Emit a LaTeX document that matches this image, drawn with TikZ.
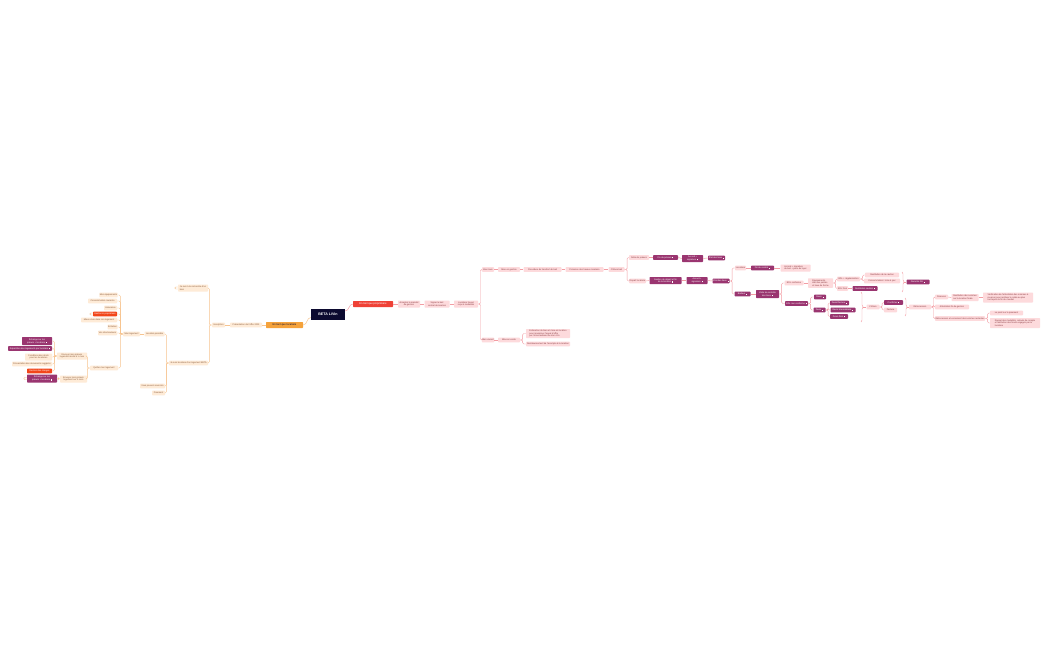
\documentclass[tikz,border=0pt]{standalone}
\usepackage{fontspec}
\setmainfont{Liberation Sans}
\usetikzlibrary{decorations.pathreplacing}
\definecolor{lfill}{HTML}{FEEBD7}
\definecolor{ltext}{HTML}{8A5A3A}
\definecolor{rfill}{HTML}{FDDADC}
\definecolor{rtext}{HTML}{8A3A40}
\definecolor{purp}{HTML}{9A3570}
\definecolor{hotc}{HTML}{F2461A}
\definecolor{lline}{HTML}{F7C48F}
\definecolor{rline}{HTML}{F39CA3}
\definecolor{navy}{HTML}{0C0A30}
\definecolor{orng}{HTML}{F5A23A}
\definecolor{redc}{HTML}{EF4136}
\newcommand\ic{\hspace{1pt}\rule[0pt]{0.9pt}{1.1pt}}
\tikzset{
 base/.style={inner sep=0.5pt, minimum height=4.6pt, font=\fontsize{2.2}{2.6}\selectfont, align=center, rounded corners=0.6pt},
 lb/.style={base, fill=lfill, text=ltext},
 rb/.style={base, fill=rfill, text=rtext},
 pu/.style={base, fill=purp, text=white},
 hot/.style={base, fill=hotc, text=white},
 ll/.style={draw=lline, line width=0.45pt, rounded corners=1.2pt},
 rl/.style={draw=rline, line width=0.45pt, rounded corners=1.2pt},
 brc/.style={draw=rline, line width=0.45pt, decorate, decoration={brace, amplitude=2pt}},
}
\begin{document}
\begin{tikzpicture}[x=1pt,y=-1pt]
\useasboundingbox (0,0) rectangle (1050,650);
\fill[white] (0,0) rectangle (1050,650);
% central
\node[inner sep=0pt, fill=navy, text=white, minimum width=34, minimum height=11, font=\fontsize{3.6}{4}\selectfont\bfseries] (n0) at (328,314.5) {BETA LiVin};
\node[base, fill=orng, text=navy, minimum width=37, minimum height=6, font=\fontsize{2.6}{3}\selectfont] (L1) at (284.5,325) {En tant que locataire};
\node[base, fill=redc, text=white, minimum width=40, minimum height=6, font=\fontsize{2.6}{3}\selectfont] (R1) at (373,304) {En tant que propriétaire};
\draw[ll] (L1.east) to[out=0,in=180] ([yshift=-3pt]n0.west);
\draw[rl] ([yshift=3.5pt]n0.east) to[out=0,in=180] (R1.west);
% ---------- left ----------
\node[lb, minimum width=32] (L2) at (246,325) {Présentation de l'offre 2023};
\node[lb, minimum width=13] (L3) at (218.5,325) {Inscription};
\node[lb, minimum width=30, minimum height=7, align=left] (L4) at (193,288) {Je suis à la recherche d'un\\bien};
\node[lb, minimum width=39] (L5) at (188.5,363) {Je suis locataire d'un logement BETA};
\node[lb, minimum width=20] (L6) at (154.5,334) {Location possible};
\node[lb, minimum width=17] (L7) at (131.5,334) {Mon logement};
\node[lb, minimum width=25] (s1) at (152.5,386) {Vous pouvez souscrire};
\node[lb, minimum width=13] (s2) at (158.5,393) {Paiement};
\node[lb, minimum width=17] (a) at (108.5,295) {Mes équipements};
\node[lb, minimum width=29] (b) at (102.5,301) {Consommation courante};
\node[lb, minimum width=13] (c) at (110.5,308) {Assurance};
\node[hot, minimum width=24] (d) at (105,314) {Gestion \& propriétaire};
\node[lb, minimum width=36] (e) at (99,320) {Mieux vivre dans son logement};
\node[lb, minimum width=10] (f) at (112.5,327) {Entretien};
\node[lb, minimum width=19] (g) at (107.5,333) {Vos interlocuteurs};
\node[lb, minimum width=28] (h) at (104,368) {Quitter mon logement};
\node[lb, minimum width=30, minimum height=7] (h1) at (72,356) {Envoyer mon préavis\\logement résilié à 1 mois};
\node[lb, minimum width=27, minimum height=7] (h2) at (73.5,379) {Envoyer mon préavis\\logement sur 3 mois};
\node[pu, minimum width=30, minimum height=8] (p1) at (37,341) {Échange sur les\\préavis + locataire\ic};
\node[pu, minimum width=44] (p2) at (30,348.5) {Répartition des logements par locataire\ic};
\node[lb, minimum width=27, minimum height=7] (q1) at (38.5,357) {Conditions des droits\\pour les locataires};
\node[lb, minimum width=40] (q2) at (32,364) {Présentation des documents suggérés};
\node[hot, minimum width=25] (q3) at (39.5,371) {Gestion des charges};
\node[pu, minimum width=30, minimum height=8] (p3) at (42,378.5) {Échange sur les\\préavis + locataire\ic};
\draw[ll] (L1.west) -- (L2.east);
\draw[ll] (L2.west) -- (L3.east);
\foreach \c in {L4,L5} \draw[ll] (L3.west) -- ++(-2.5,0) |- (\c.east);
\foreach \c in {L6,s1,s2} \draw[ll] (L5.west) -- ++(-2.5,0) |- (\c.east);
\draw[ll] (L6.west) -- (L7.east);
\foreach \c in {a,b,c,d,e,f,g,h} \draw[ll] (L7.west) -- ++(-2.5,0) |- (\c.east);
\foreach \c in {h1,h2} \draw[ll] (h.west) -- ++(-2.5,0) |- (\c.east);
\foreach \c in {p1,p2,q1,q2,q3} \draw[ll] (h1.west) -- ++(-2.5,0) |- (\c.east);
\draw[ll] (h2.west) -- ++(-1.5,0) |- (p3.east);
\draw[ll] ([yshift=1pt]L4.west) .. controls +(-4,-1) and +(-4,1) .. ([yshift=-1pt]L4.west);
\draw[ll] ([yshift=1pt]d.west) .. controls +(-4,-1) and +(-4,1) .. ([yshift=-1pt]d.west);
\draw[ll] ([yshift=1pt]p3.west) .. controls +(-4,-1) and +(-4,1) .. ([yshift=-1pt]p3.west);
% ---------- right ----------
\node[rb, minimum width=22, minimum height=7] (R2) at (409,304) {Accepter le mandat\\de gestion};
\node[rb, minimum width=25, minimum height=7] (R3) at (437,304) {Signer le bail\\contrat de location};
\node[rb, minimum width=24, minimum height=7] (R4) at (466,304) {Locataire trouvé\\reçu \& modalités};
\node[rb, minimum width=12] (R5) at (488,269.5) {Bien loué};
\node[rb, minimum width=22] (R6) at (509,269.5) {Mise en gestion};
\node[rb, minimum width=38] (R7) at (542.5,269.5) {Procédure de transfert de bail};
\node[rb, minimum width=38] (R8) at (584.5,269.5) {Présence des travaux locataire};
\node[rb, minimum width=16] (R9) at (616.5,269.5) {Clôture bail};
\node[rb, minimum width=12] (R10) at (488,340) {Bien vacant};
\node[rb, minimum width=22] (R11) at (509,340) {Mise en vente};
\node[rb, minimum width=44, minimum height=9, align=left] (R12) at (548,333.5) {Estimation du bien et mise en location\\pour maximiser l'appel d'offre\\par l'intermédiaire du site LiVin};
\node[rb, minimum width=44] (R13) at (548,344) {Remboursement de l'acompte à la location};
\node[rb, minimum width=20] (T1) at (639,257.5) {Délai de préavis};
\node[pu, minimum width=25] (T2) at (665.5,257.5) {Fin du préavis\ic};
\node[pu, minimum width=21, minimum height=7] (T3) at (692.5,258.5) {Accord +\\signature\ic};
\node[pu, minimum width=17] (T4) at (716.5,258) {État des lieux\ic};
\node[rb, minimum width=16] (U1) at (637.5,281) {Départ locataire};
\node[pu, minimum width=32, minimum height=7] (U2) at (665.5,280.5) {Gestion du départ et fin\\de la location\ic};
\node[pu, minimum width=21, minimum height=7] (U3) at (697,280.5) {Accord +\\signature\ic};
\node[pu, minimum width=17] (U4) at (721,281) {État des lieux\ic};
\node[rb, minimum width=11] (V1) at (740.5,268) {Locataire};
\node[pu, minimum width=23] (V2) at (762.5,268) {Fin du contrat\ic};
\node[rb, minimum width=30, minimum height=7, align=left] (V3) at (795.5,268) {Accord + signature\\du bail + jours de loyer};
\node[pu, minimum width=16] (W1) at (742.5,294) {Bailleur\ic};
\node[pu, minimum width=23, minimum height=8] (W2) at (767.5,294) {Visite de contrôle\\des lieux\ic};
\node[rb, minimum width=19] (X1) at (794,283) {EDL conforme};
\node[pu, minimum width=23] (X2) at (796.5,303.5) {EDL non conforme\ic};
\node[rb, minimum width=25, minimum height=9.5, align=left] (X3) at (820.5,283) {Équipements,\\état des parties\\et lieux de forme};
\node[rb, minimum width=23] (X4) at (848.5,279) {EDL + régularisation};
\node[rb, minimum width=11] (X5) at (842.5,288.5) {EDL final};
\node[pu, minimum width=25] (X6) at (865,288.5) {Restitution caution\ic};
\node[rb, minimum width=34] (X7) at (882,275) {Restitution de la caution};
\node[rb, minimum width=36] (X8) at (882,281) {Consommation / mise à jour};
\node[pu, minimum width=23] (G1) at (918,282) {Garantie GLI\ic};
\node[pu, minimum width=12] (Y1) at (820,297) {Devis\ic};
\node[pu, minimum width=12] (Y2) at (819.5,310) {Devis\ic};
\node[pu, minimum width=19] (Y3) at (839.5,303) {Devis/Facture\ic};
\node[pu, minimum width=25] (Y4) at (843,310) {Devis intermédiaire\ic};
\node[pu, minimum width=18] (Y5) at (839,316.5) {Devis final\ic};
\node[rb, minimum width=13] (Z1) at (873,307) {Clôture};
\node[pu, minimum width=19] (Z2) at (893.5,302.5) {Confirmer\ic};
\node[rb, minimum width=13] (Z3) at (890.5,310) {Facture};
\node[rb, minimum width=22] (Z4) at (920,307) {Rétrocession};
\node[rb, minimum width=13] (A1) at (941.5,297) {Finances};
\node[rb, minimum width=27, minimum height=7, align=left] (A2) at (965,297.5) {Restitution des sommes\\sur la location finale};
\node[rb, minimum width=50, minimum height=10, align=left] (A3) at (1008,297.5) {Vérification de l'attestation des sommes à\\reverser pour restituer le solde au plus\\tard après la fin du mandat};
\node[rb, minimum width=34] (A4) at (952,307) {Attestation fin de gestion};
\node[rb, minimum width=50] (A5) at (960,318.5) {Rétrocession et versement des sommes restantes};
\node[rb, minimum width=33] (A6) at (1006.5,313) {Le point sur le paiement};
\node[rb, minimum width=50, minimum height=10, align=left] (A7) at (1015,323) {Rappel des modalités, relevés de compte\\et restitution des fonds engagés par le\\locataire};
\draw[rl] (R1.east) -- (R2.west);
\draw[rl] (R2.east) -- (R3.west);
\draw[rl] (R3.east) -- (R4.west);
\foreach \c in {R5,R10} \draw[rl] (R4.east) -- ++(2.3,0) |- (\c.west);
\draw[rl] (R5.east) -- (R6.west);
\draw[rl] (R6.east) -- (R7.west);
\draw[rl] (R7.east) -- (R8.west);
\draw[rl] (R8.east) -- (R9.west);
\draw[rl] (R10.east) -- (R11.west);
\foreach \c in {R12,R13} \draw[rl] (R11.east) -- ++(2.5,0) |- (\c.west);
\foreach \c in {T1,U1} \draw[rl] (R9.east) -- ++(2.5,0) |- (\c.west);
\draw[rl] (T1.east) -- (T2.west);
\draw[rl] (T2.east) -- (T3.west);
\draw[rl] (T3.east) -- (T4.west);
\draw[rl] (U1.east) -- (U2.west);
\draw[rl] (U2.east) -- (U3.west);
\draw[rl] (U3.east) -- (U4.west);
\foreach \c in {V1,W1} \draw[rl] (U4.east) -- ++(2.5,0) |- (\c.west);
\draw[rl] (V1.east) -- (V2.west);
\draw[rl] (V2.east) -- (V3.west);
\draw[rl] (W1.east) -- (W2.west);
\foreach \c in {X1,X2} \draw[rl] (W2.east) -- ++(2.5,0) |- (\c.west);
\draw[rl] (X1.east) -- (X3.west);
\foreach \c in {X4,X5} \draw[rl] (X3.east) -- ++(2.5,0) |- (\c.west);
\draw[rl] (X5.east) -- (X6.west);
\foreach \c in {X7,X8} \draw[rl] (X4.east) -- ++(2.5,0) |- (\c.west);
\foreach \c in {Y1,Y2} \draw[rl] (X2.east) -- ++(2.5,0) |- (\c.west);
\foreach \c in {Y3,Y4,Y5} \draw[rl] (Y2.east) -- ++(2.5,0) |- (\c.west);
\foreach \c in {Z2,Z3} \draw[rl] (Z1.east) -- ++(2.5,0) |- (\c.west);
\foreach \c in {A1,A4,A5} \draw[rl] (Z4.east) -- ++(2.3,0) |- (\c.west);
\draw[rl] (A1.east) -- (A2.west);
\draw[rl] (A2.east) -- (A3.west);
\foreach \c in {A6,A7} \draw[rl] (A5.east) -- ++(2.5,0) |- (\c.west);
% braces
\coordinate (b1a) at (902,272); \coordinate (b1b) at (902,292); \coordinate (b1t) at (904.2,282);
\draw[brc] (b1a) -- (b1b);
\draw[rl] (b1t) -- (G1.west);
\coordinate (b2a) at (861,292); \coordinate (b2b) at (861,322); \coordinate (b2t) at (863.2,307);
\draw[brc] (b2a) -- (b2b);
\draw[rl] (b2t) -- (Z1.west);
\coordinate (b3a) at (905,298); \coordinate (b3b) at (905,316); \coordinate (b3t) at (907.2,307);
\draw[brc] (b3a) -- (b3b);
\draw[rl] (b3t) -- (Z4.west);
\end{tikzpicture}
\end{document}
